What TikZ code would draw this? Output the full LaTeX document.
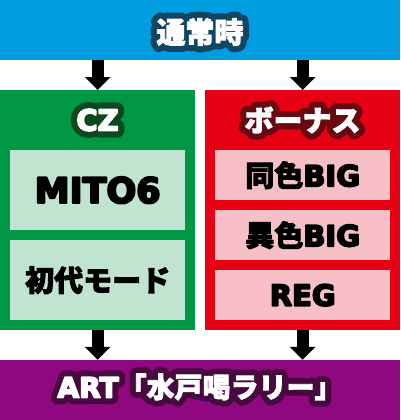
\documentclass[tikz,border=0pt]{standalone}
\usepackage{fontspec}
\setmainfont{DejaVu Sans}[BoldFeatures={FakeBold=6}]
\newfontfamily\lathalofont{DejaVu Sans}[BoldFeatures={FakeBold=48}]
\newfontfamily\jpfont{Noto Sans CJK JP}[BoldFeatures={FakeBold=3}]
\newfontfamily\jphalofont{Noto Sans CJK JP}[BoldFeatures={FakeBold=45}]
\usetikzlibrary{arrows.meta}

\definecolor{skyblue}{RGB}{0,158,224}
\definecolor{czgreen}{RGB}{0,152,68}
\definecolor{bonusred}{RGB}{230,0,18}
\definecolor{artpurple}{RGB}{143,8,128}
\definecolor{czlight}{RGB}{192,228,208}
\definecolor{bonuslight}{RGB}{248,192,198}
\definecolor{navyline}{RGB}{16,70,100}
\definecolor{greenline}{RGB}{10,72,32}
\definecolor{redline}{RGB}{104,8,16}
\definecolor{purpleline}{RGB}{72,8,64}

\newcommand{\jpsel}{\jpfont}
\newcommand{\jp}[1]{{\jpsel#1}}
\newcommand{\outlined}[2]{\rlap{\color{#1}\lathalofont\let\jpsel\jphalofont#2}\textcolor{white}{#2}}

\tikzset{
  bar/.style={minimum width=400pt, minimum height=60pt, inner sep=0pt},
  group/.style={minimum width=195pt, minimum height=240pt, inner sep=0pt, anchor=north west},
  item/.style={minimum width=175pt, inner sep=0pt, anchor=north west},
  bigtext/.style={font=\bfseries\fontsize{29}{29}\selectfont},
  flow/.style={line width=12pt, -{Triangle[width=25pt,length=13pt]}},
}

\begin{document}
\begin{tikzpicture}[x=1pt,y=-1pt,line join=round]
  \useasboundingbox (0,0) rectangle (400,420);
  %%%%%%%%%%%%%top and bottom bars%%%%%%%%%%%%%%%%%%%%%%
  \node[bar, fill=skyblue] (normal) at (200,30) {};
  \node[bar, fill=artpurple] (art) at (200,390) {};
  \node[bigtext] (normallabel) at (200,32) {\outlined{navyline}{\jp{通常時}}};
  \node[bigtext, font=\bfseries\fontsize{28}{28}\selectfont] (artlabel) at (200,387) {\outlined{purpleline}{ART\jp{「水戸喝ラリー」}}};

  %%%%%%%%%%%%%CZ%%%%%%%%%%%%%%%%%%%%%%
  \node[group, fill=czgreen] (cz) at (0,90) {};
  \node[bigtext] (czlabel) at (97.5,120) {\outlined{greenline}{CZ}};
  \node[item, bigtext, font=\bfseries\fontsize{35}{35}\selectfont, fill=czlight, minimum height=80pt] (mito) at (10,150) {MITO6};
  \node[item, bigtext, fill=czlight, minimum height=80pt] (first) at (10,240) {\jp{初代モード}};

  %%%%%%%%%%%%%bonus%%%%%%%%%%%%%%%%%%%%%%
  \node[group, fill=bonusred] (bonus) at (205,90) {};
  \node[bigtext] (bonuslabel) at (302.5,120) {\outlined{redline}{\jp{ボーナス}}};
  \node[item, bigtext, fill=bonuslight, minimum height=50pt] (samebig) at (215,150) {\jp{同色}BIG};
  \node[item, bigtext, fill=bonuslight, minimum height=50pt] (mixbig) at (215,210) {\jp{異色}BIG};
  \node[item, bigtext, fill=bonuslight, minimum height=50pt] (reg) at (215,270) {REG};

  %%%%%%%%%%%%%arrows%%%%%%%%%%%%%%%%%%%%%%
  \draw[flow] (normal.south -| cz.north) -- (cz.north);
  \draw[flow] (normal.south -| bonus.north) -- (bonus.north);
  \draw[flow] (cz.south) -- (cz.south |- art.north);
  \draw[flow] (bonus.south) -- (bonus.south |- art.north);
\end{tikzpicture}
\end{document}
